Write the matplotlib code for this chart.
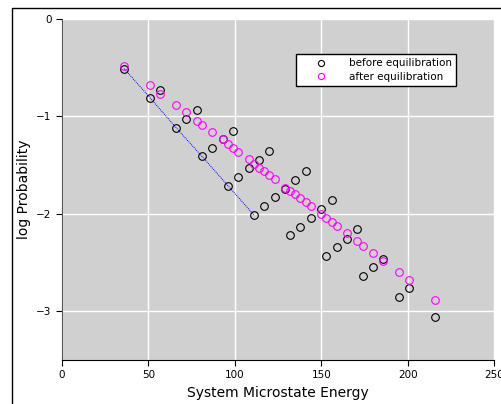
import matplotlib
matplotlib.use('Agg')
import matplotlib.pyplot as plt
from matplotlib.patches import Rectangle

# energies (shared by both series)
energy = [36, 51, 57, 66, 72, 78, 81, 87, 93, 96, 99, 102, 108, 111, 114, 117, 120, 123,
          129, 132, 135, 138, 141, 144, 150, 153, 156, 159, 165, 171, 174, 180, 186, 195, 201, 216]

before = [-0.51, -0.81, -0.725, -1.115, -1.026, -0.937, -1.41, -1.323, -1.23, -1.71, -1.145, -1.62,
          -1.53, -2.01, -1.446, -1.92, -1.354, -1.83, -1.745, -2.22, -1.655, -2.13, -1.56, -2.04,
          -1.95, -2.43, -1.86, -2.34, -2.256, -2.16, -2.64, -2.55, -2.465, -2.85, -2.76, -3.06]

after = [-0.48, -0.68, -0.766, -0.88, -0.957, -1.043, -1.084, -1.163, -1.234, -1.28, -1.32, -1.364,
         -1.44, -1.487, -1.525, -1.56, -1.60, -1.645, -1.73, -1.764, -1.80, -1.84, -1.88, -1.92,
         -2.00, -2.04, -2.08, -2.12, -2.20, -2.28, -2.325, -2.40, -2.485, -2.60, -2.68, -2.88]

# reference line through a subset of the "before" points
line_x = [36, 51, 66, 81, 96, 111]
line_y = [-0.51, -0.81, -1.115, -1.41, -1.71, -2.01]

fig = plt.figure(figsize=(5.01, 4.04), dpi=100)
# figure frame (the original is cropped on the right and bottom)
fig.patches.append(Rectangle((12 / 501, -0.1), 1.1, 1 - 8 / 404 + 0.1, transform=fig.transFigure,
                             fill=False, edgecolor='black', linewidth=1.0))

ax = fig.add_axes([62 / 501, 44 / 404, 432 / 501, 341 / 404])
ax.set_facecolor('#d0d0d0')
ax.grid(True, color='white', linewidth=1.0)
ax.set_axisbelow(True)

ax.plot(line_x, line_y, color='blue', linewidth=0.7, dashes=(1, 1))
ax.plot(energy, before, 'o', mfc='none', mec='black', ms=5.5, mew=0.8, label='before equilibration')
ax.plot(energy, after, 'o', mfc='none', mec='magenta', ms=5.5, mew=0.8, label='after equilibration')

ax.set_xlim(0, 250)
ax.set_ylim(-3.5, 0)
ax.set_xticks([0, 50, 100, 150, 200, 250])
ax.set_yticks([0, -1, -2, -3])
ax.tick_params(labelsize=7.5, length=4)
ax.spines['top'].set_visible(False)
ax.spines['right'].set_visible(False)
ax.spines['left'].set_color('#555555')

ax.set_xlabel('System Microstate Energy', fontsize=10)
ax.set_ylabel('log Probability', fontsize=10)

leg = ax.legend(loc='upper right', bbox_to_anchor=((456 - 62) / 432, 1 - (54 - 19) / 341),
                bbox_transform=ax.transAxes, borderaxespad=0, fontsize=7.5, fancybox=False,
                framealpha=1, edgecolor='black', handlelength=4, handletextpad=0.7,
                borderpad=0.4, labelspacing=0.35, markerscale=0.8)
leg.get_frame().set_linewidth(1.0)

fig.savefig('out.png', dpi=100)
